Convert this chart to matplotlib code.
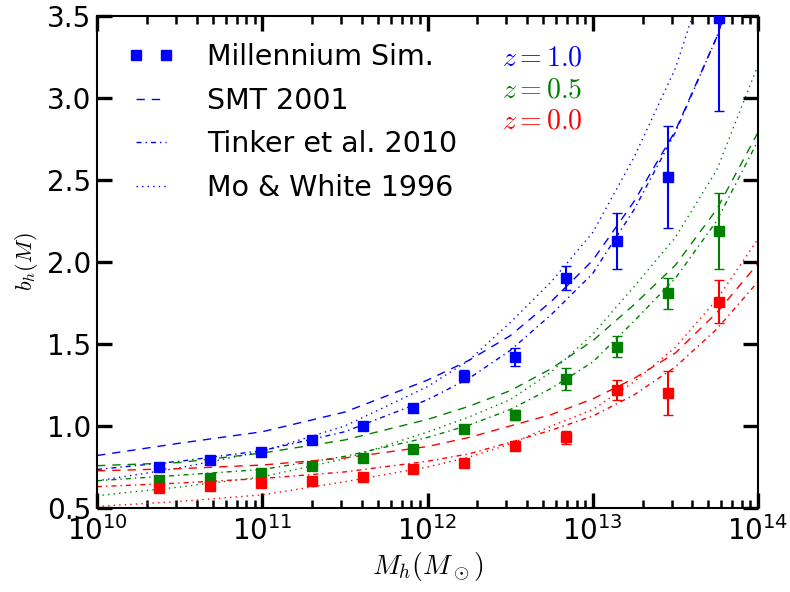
import numpy as np
import matplotlib
matplotlib.use("Agg")
import matplotlib.pyplot as plt
from matplotlib.lines import Line2D

plt.rcParams['mathtext.fontset'] = 'cm'
plt.rcParams['font.family'] = ['DejaVu Sans']

# ---- simulation points ----
halo_mass = [2.37e10, 4.82e10, 9.8e10, 1.99e11, 4.05e11, 8.22e11,
             1.67e12, 3.40e12, 6.90e12, 1.40e13, 2.85e13, 5.79e13]
bias_z10 = [0.748, 0.793, 0.843, 0.915, 1.00, 1.11, 1.305, 1.419, 1.904, 2.128, 2.52, 3.49]
err_z10 = [0.01, 0.01, 0.01, 0.012, 0.015, 0.02, 0.036, 0.054, 0.073, 0.168, 0.31, 0.57]
bias_z05 = [0.671, 0.685, 0.715, 0.756, 0.803, 0.862, 0.984, 1.067, 1.287, 1.484, 1.81, 2.19]
err_z05 = [0.008, 0.008, 0.01, 0.01, 0.012, 0.015, 0.02, 0.03, 0.066, 0.062, 0.095, 0.23]
bias_z00 = [0.62, 0.634, 0.65, 0.667, 0.687, 0.736, 0.772, 0.878, 0.93, 1.22, 1.20, 1.758]
err_z00 = [0.008, 0.008, 0.008, 0.01, 0.01, 0.012, 0.015, 0.02, 0.04, 0.06, 0.136, 0.13]

# ---- model curves ----
model_mass = [1e10, 3.16e10, 1e11, 3.16e11, 1e12, 1.78e12, 3.16e12, 5.62e12,
              1e13, 1.78e13, 3.16e13, 5.62e13, 1e14]
smt_z10 = [0.82, 0.895, 0.965, 1.085, 1.28, 1.40, 1.55, 1.76, 2.01, 2.37, 2.80, 3.37, 4.10]
tinker_z10 = [0.735, 0.785, 0.85, 0.965, 1.16, 1.29, 1.46, 1.68, 1.93, 2.32, 2.79, 3.37, 4.15]
mw_z10 = [0.665, 0.745, 0.845, 1.0, 1.24, 1.40, 1.63, 1.88, 2.18, 2.64, 3.18, 3.95, 5.0]
smt_z05 = [0.758, 0.777, 0.835, 0.915, 1.04, 1.12, 1.215, 1.35, 1.52, 1.74, 1.98, 2.32, 2.79]
tinker_z05 = [0.666, 0.70, 0.735, 0.815, 0.93, 1.005, 1.10, 1.23, 1.39, 1.64, 1.90, 2.25, 2.74]
mw_z05 = [0.575, 0.628, 0.69, 0.80, 0.963, 1.055, 1.16, 1.33, 1.56, 1.85, 2.15, 2.56, 3.2]
smt_z00 = [0.727, 0.74, 0.762, 0.805, 0.875, 0.93, 1.0, 1.07, 1.165, 1.29, 1.445, 1.69, 1.99]
tinker_z00 = [0.63, 0.652, 0.68, 0.72, 0.785, 0.83, 0.90, 0.975, 1.06, 1.19, 1.36, 1.59, 1.88]
mw_z00 = [0.51, 0.54, 0.58, 0.66, 0.75, 0.81, 0.89, 1.0, 1.10, 1.27, 1.48, 1.77, 2.14]

redshift_labels = ['$z=1.0$', '$z=0.5$', '$z=0.0$']
legend_labels = ['Millennium Sim.', 'SMT 2001', 'Tinker et al. 2010', 'Mo & White 1996']
colors = ['#0000ff', '#008000', '#ff0000']

ls_smt = (0, (6, 5))
ls_tinker = (0, (3.6, 2.9, 1, 2.9))
ls_mw = (0, (1, 3))

fig = plt.figure(figsize=(7.9, 5.92), dpi=100)
ax = fig.add_axes([0.1228, 0.1419, 0.8367, 0.8311])
ax.set_xscale('log')

groups = [
    (bias_z10, err_z10, smt_z10, tinker_z10, mw_z10),
    (bias_z05, err_z05, smt_z05, tinker_z05, mw_z05),
    (bias_z00, err_z00, smt_z00, tinker_z00, mw_z00),
]
for (b, e, s, t, m), c in zip(groups, colors):
    ax.plot(model_mass, s, ls=ls_smt, lw=1.0, color=c)
    ax.plot(model_mass, t, ls=ls_tinker, lw=1.0, color=c)
    ax.plot(model_mass, m, ls=ls_mw, lw=1.0, color=c)
for (b, e, s, t, m), c in zip(groups, colors):
    ax.errorbar(halo_mass, b, yerr=e, fmt='s', color=c, ms=7, mec=c,
                capsize=3.5, elinewidth=1.5, capthick=1.0, zorder=5)

ax.set_xlim(1e10, 1e14)
ax.set_ylim(0.5, 3.5)
ax.set_yticks([0.5, 1.0, 1.5, 2.0, 2.5, 3.0, 3.5])
ax.set_yticklabels(['0.5', '1.0', '1.5', '2.0', '2.5', '3.0', '3.5'])

ax.tick_params(axis='both', which='major', direction='in', length=11, width=2.4,
               labelsize=20, top=True, right=True, pad=4)
ax.tick_params(axis='x', which='major', pad=6)
ax.tick_params(axis='x', which='minor', direction='in', length=6, width=1.8,
               top=True, bottom=True)
ax.tick_params(axis='y', which='minor', left=False, right=False)
for sp in ax.spines.values():
    sp.set_linewidth(1.5)

ax.set_xlabel(r'$M_h(M_\odot)$', fontsize=20, labelpad=3)
ax.set_ylabel(r'$b_h(M)$', fontsize=16, labelpad=5)

handles = [
    Line2D([], [], ls='none', marker='s', color=colors[0], ms=7),
    Line2D([], [], ls=ls_smt, lw=1.0, color=colors[0]),
    Line2D([], [], ls=ls_tinker, lw=1.0, color=colors[0]),
    Line2D([], [], ls=ls_mw, lw=1.0, color=colors[0]),
]
ax.legend(handles, legend_labels, loc='upper left', frameon=False, fontsize=20.5,
          numpoints=2, handlelength=1.65, handletextpad=1.15, labelspacing=0.55,
          borderaxespad=0.55, bbox_to_anchor=(0.005, 1.0))

for lab, c, yy in zip(redshift_labels, colors, [0.915, 0.85, 0.787]):
    ax.text(0.613, yy, lab, transform=ax.transAxes, color=c, fontsize=20,
            ha='left', va='center')

fig.savefig('out.png', dpi=100)
